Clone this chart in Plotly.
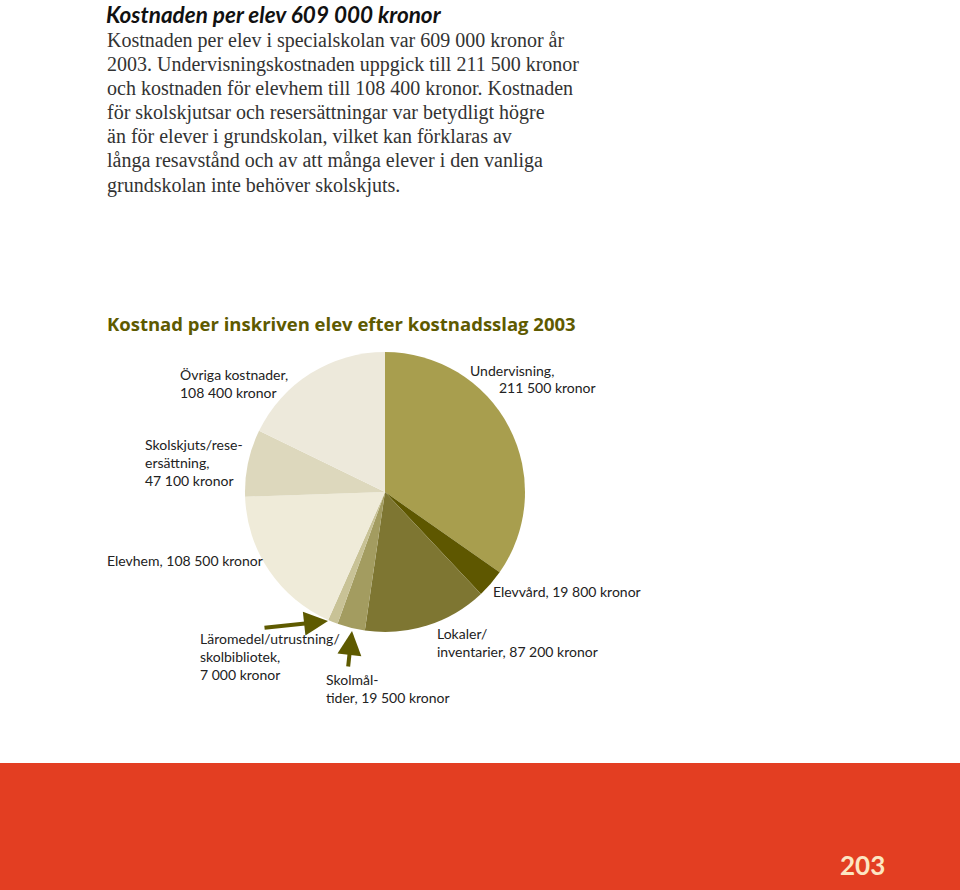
import plotly.graph_objects as go

W, H = 960, 890

categories = ["Undervisning", "Elevvård", "Lokaler/inventarier", "Skolmåltider",
              "Läromedel/utrustning/skolbibliotek", "Elevhem", "Skolskjuts/reseersättning",
              "Övriga kostnader"]
values = [211500, 19800, 87200, 19500, 7000, 108500, 47100, 108400]
colors = ["#A89E4E", "#5E5700", "#7E7632", "#A39C60", "#C8C296",
          "#EFEBD9", "#DDD8BD", "#EDE9DB"]

heading = "Kostnaden per elev 609 000 kronor"
body_lines = [
    "Kostnaden per elev i specialskolan var 609 000 kronor år",
    "2003. Undervisningskostnaden uppgick till 211 500 kronor",
    "och kostnaden för elevhem till 108 400 kronor. Kostnaden",
    "för skolskjutsar och resersättningar var betydligt högre",
    "än för elever i grundskolan, vilket kan förklaras av",
    "långa resavstånd och av att många elever i den vanliga",
    "grundskolan inte behöver skolskjuts.",
]
chart_title = "Kostnad per inskriven elev efter kostnadsslag 2003"
page_number = "203"


def px(x):
    return x / W


def py(y):
    return 1 - y / H


fig = go.Figure()
fig.add_trace(go.Pie(
    labels=categories, values=values, sort=False, direction="clockwise",
    rotation=0, marker=dict(colors=colors, line=dict(width=0)),
    textinfo="none", showlegend=False,
    domain=dict(x=[px(245), px(525)], y=[py(632), py(352)]),
))

annotations = []
sans = "Lato"
lab_col = "#222222"


def label(text, x, ytop, size=14):
    annotations.append(dict(text=text, x=px(x), y=py(ytop), xref="paper", yref="paper",
                            xanchor="left", yanchor="top", align="left", showarrow=False,
                            font=dict(family=sans, size=size, color=lab_col)))


annotations.append(dict(text="<b><i>" + heading + "</i></b>", x=px(105), y=py(0),
                        xref="paper", yref="paper", xanchor="left", yanchor="top",
                        showarrow=False, borderpad=0,
                        font=dict(family="Lato", size=22.5, color="#111111")))
for i, line in enumerate(body_lines):
    annotations.append(dict(text=line, x=px(105), y=py(40 + i * 24.2),
                            xref="paper", yref="paper", xanchor="left", yanchor="middle",
                            align="left", showarrow=False,
                            font=dict(family="Liberation Serif", size=20, color="#333333")))
annotations.append(dict(text="<b>" + chart_title + "</b>", x=px(105), y=py(323),
                        xref="paper", yref="paper", xanchor="left", yanchor="middle",
                        showarrow=False, font=dict(family="Open Sans", size=18.5, color="#5E5A00")))

label("Övriga kostnader,<br>108 400 kronor", 178, 364)
label("Undervisning,", 468, 360)
label("211 500 kronor", 497, 377)
label("Skolskjuts/rese-<br>ersättning,<br>47 100 kronor", 143, 434)
label("Elevhem, 108 500 kronor", 105, 550)
label("Elevvård, 19 800 kronor", 491, 581)
label("Lokaler/<br>inventarier, 87 200 kronor", 435, 623)
label("Läromedel/utrustning/<br>skolbibliotek,<br>7 000 kronor", 198, 628)
label("Skolmål-<br>tider, 19 500 kronor", 324, 669)

arrow_col = "#5E5A00"
annotations.append(dict(text="", x=px(328), y=py(621), ax=-65, ay=7,
                        xref="paper", yref="paper", axref="pixel", ayref="pixel",
                        showarrow=True, arrowhead=2, arrowsize=1.2, arrowwidth=4, arrowcolor=arrow_col))
annotations.append(dict(text="", x=px(352), y=py(631), ax=-4, ay=37,
                        xref="paper", yref="paper", axref="pixel", ayref="pixel",
                        showarrow=True, arrowhead=2, arrowsize=1.2, arrowwidth=4, arrowcolor=arrow_col))

annotations.append(dict(text="<b>" + page_number + "</b>", x=px(862), y=py(865),
                        xref="paper", yref="paper", xanchor="center", yanchor="middle",
                        showarrow=False, font=dict(family="Lato", size=26, color="#FCE6C2")))

fig.update_layout(
    width=W, height=H, margin=dict(l=0, r=0, t=0, b=0),
    paper_bgcolor="white", plot_bgcolor="white",
    annotations=annotations,
    shapes=[dict(type="rect", xref="paper", yref="paper", x0=0, x1=1, y0=0, y1=py(763),
                 fillcolor="#E33E22", line=dict(width=0), layer="below")],
)

fig.write_html("out.html", config={"displayModeBar": False},
               post_script="document.body.style.margin='0';document.body.style.overflow='hidden';")
